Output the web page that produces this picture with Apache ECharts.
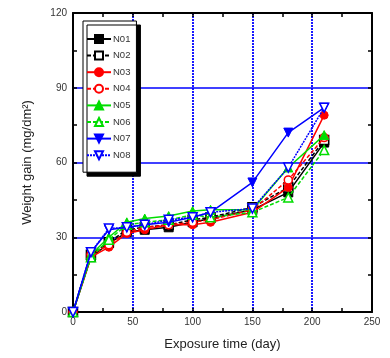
<!DOCTYPE html>
<html><head><meta charset="utf-8">
<script src="https://cdn.jsdelivr.net/npm/echarts@6/dist/echarts.min.js"></script>
<style>html,body{margin:0;padding:0;background:#fff}#c{width:390px;height:358px}</style>
</head><body><div id="c"></div>
<script>
const days = [0, 15, 30, 45, 60, 80, 100, 115, 150, 180, 210];
const N01 = [0, 22, 27.5, 32, 33, 34, 36, 37.5, 41, 48, 68];
const N02 = [0, 23, 28, 33, 34, 35, 37, 38, 42, 50, 69];
const N03 = [0, 22, 26, 31.5, 33, 35, 35, 36, 40, 50, 79];
const N04 = [0, 23, 27, 32, 34, 35, 36, 37, 41, 53, 70];
const N05 = [0, 23, 30, 36, 37.5, 38.5, 40.5, 41, 41, 58, 71];
const N06 = [0, 22, 29, 35, 36, 37, 39, 38, 40, 46, 65];
const N07 = [0, 24, 33, 34, 35, 36, 38, 40, 52, 72, 82];
const N08 = [0, 24, 33.5, 34, 35, 37, 38, 40, 41.5, 58, 82];
const names = ['N01','N02','N03','N04','N05','N06','N07','N08'];
const values = [N01,N02,N03,N04,N05,N06,N07,N08];
const xTicks = [0, 50, 100, 150, 200, 250];
const yTicks = [0, 30, 60, 90, 120];

const BLK='#000000', RED='#ff0000', GRN='#00dd00', BLU='#0000ff';
const DOWN='path://M0,0 L10,0 L5,9 Z';
const styles = [
  {c:BLK, sym:'rect', open:false, type:'solid'},
  {c:BLK, sym:'rect', open:true, type:[4,2]},
  {c:RED, sym:'circle', open:false, type:'solid'},
  {c:RED, sym:'circle', open:true, type:[4,2]},
  {c:GRN, sym:'triangle', open:false, type:'solid'},
  {c:GRN, sym:'triangle', open:true, type:[4,2]},
  {c:BLU, sym:DOWN, open:false, type:'solid'},
  {c:BLU, sym:DOWN, open:true, type:[2,1]}
];

const series = names.map((n,i)=>{
  const s = styles[i];
  return {
    name:n, type:'line', xAxisIndex:0, yAxisIndex:0,
    data: days.map((d,j)=>[d, values[i][j]]),
    symbol: s.sym, symbolSize: s.sym==='circle'?8:9, showSymbol:true,
    color: s.c,
    lineStyle:{color:s.c, width:1.5, type:s.type},
    itemStyle: s.open ? {color:'#fff', borderColor:s.c, borderWidth:1.5} : {color:s.c, borderColor:s.c, borderWidth:1},
    animation:false, z: 3+i
  };
});

const labelFont = {fontFamily:'Liberation Sans, Arial, sans-serif', fontSize:10, color:'#333'};
const chart = echarts.init(document.getElementById('c'));
chart.setOption({
  animation:false,
  grid:{left:73, right:18, top:13, bottom:46},
  legend:{
    orient:'vertical', left:83, top:21, padding:[13,6,12,3],
    backgroundColor:'#fff', borderColor:'#000', borderWidth:1,
    shadowColor:'#000', shadowOffsetX:4, shadowOffsetY:4, shadowBlur:0,
    itemWidth:24, itemHeight:10, itemGap:6.6,
    textStyle:{fontFamily:'Liberation Sans, Arial, sans-serif', fontSize:9.5, color:'#333', padding:[0,0,0,-3]},
    data:names
  },
  xAxis:[{
    type:'value', min:0, max:250, interval:50,
    name:'Exposure time (day)', nameLocation:'middle', nameGap:26,
    nameTextStyle:{fontFamily:'Liberation Sans, Arial, sans-serif', fontSize:13, color:'#222'},
    axisLine:{show:true, lineStyle:{color:'#000', width:2}},
    axisTick:{show:true, inside:true, length:4, lineStyle:{color:'#000', width:1.5}},
    minorTick:{show:true, splitNumber:2, length:4, lineStyle:{color:'#000', width:1.5}},
    axisLabel:Object.assign({margin:5, formatter:v=>xTicks.includes(v)?String(v):''}, labelFont),
    splitLine:{show:true, lineStyle:{color:BLU, width:1.8, type:[2,1]}}
  },{
    type:'value', position:'top', min:0, max:250, interval:50,
    axisLine:{show:true, onZero:false, lineStyle:{color:'#000', width:2}},
    axisTick:{show:true, inside:true, length:4, lineStyle:{color:'#000', width:1.5}},
    minorTick:{show:true, splitNumber:2, length:4, lineStyle:{color:'#000', width:1.5}},
    axisLabel:{show:false}, splitLine:{show:false}
  }],
  yAxis:[{
    type:'value', min:0, max:120, interval:30,
    name:'Weight gain (mg/dm²)', nameLocation:'middle', nameGap:39,
    nameTextStyle:{fontFamily:'Liberation Sans, Arial, sans-serif', fontSize:13, color:'#222'},
    axisLine:{show:true, lineStyle:{color:'#000', width:2}},
    axisTick:{show:true, inside:true, length:4, lineStyle:{color:'#000', width:1.5}},
    minorTick:{show:true, splitNumber:2, length:4, lineStyle:{color:'#000', width:1.5}},
    axisLabel:Object.assign({margin:6, formatter:v=>yTicks.includes(v)?String(v):''}, labelFont),
    splitLine:{show:true, lineStyle:{color:BLU, width:1.5}}
  },{
    type:'value', position:'right', min:0, max:120, interval:30,
    axisLine:{show:true, onZero:false, lineStyle:{color:'#000', width:2}},
    axisTick:{show:true, inside:true, length:4, lineStyle:{color:'#000', width:1.5}},
    minorTick:{show:true, splitNumber:2, length:4, lineStyle:{color:'#000', width:1.5}},
    axisLabel:{show:false}, splitLine:{show:false}
  }],
  series:series
});
</script></body></html>
